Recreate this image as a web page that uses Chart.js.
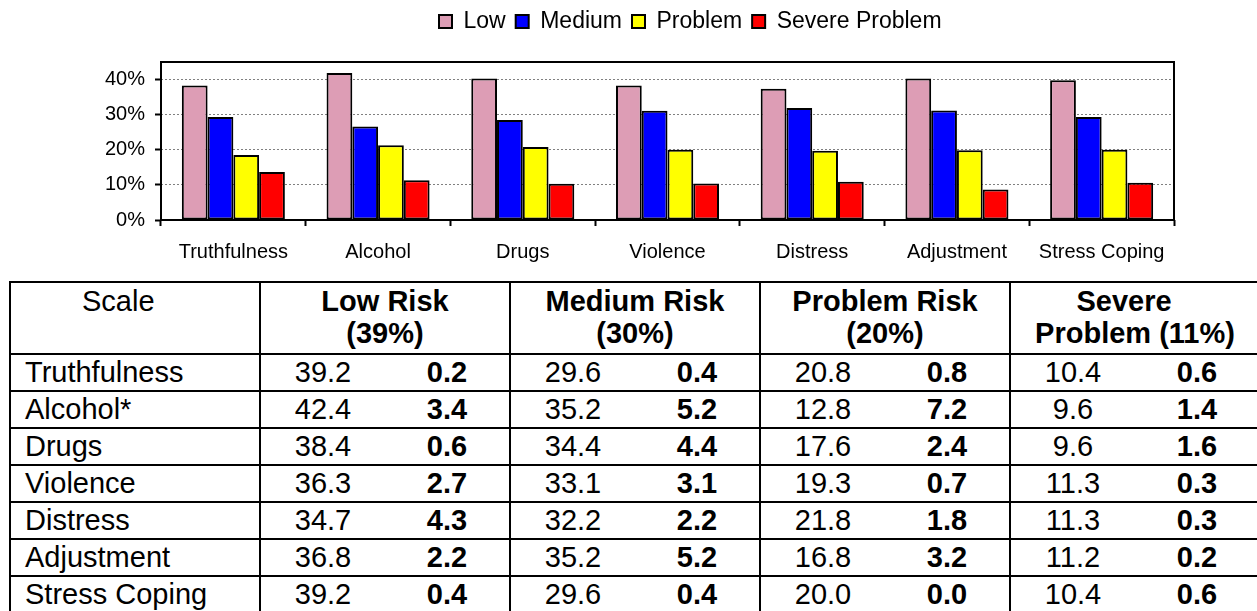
<!DOCTYPE html>
<html>
<head>
<meta charset="utf-8">
<script src="https://cdn.jsdelivr.net/npm/chart.js@4.4.1/dist/chart.umd.min.js"></script>
<style>
html,body{margin:0;padding:0;background:#fff;width:1257px;height:611px;overflow:hidden;font-family:"Liberation Sans",Arial,sans-serif;color:#000;}
#chartBox{position:absolute;left:0;top:0;width:1257px;height:280px;}
#tbl{position:absolute;left:9px;top:281px;border-collapse:collapse;table-layout:fixed;width:1252px;font-size:29px;}
#tbl td,#tbl th{border-top:2px solid #000;border-bottom:2px solid #000;padding:0;white-space:nowrap;overflow:hidden;}
#tbl th{font-weight:bold;text-align:center;vertical-align:top;line-height:32px;height:68px;padding-top:2px;}
#tbl th.scale{font-weight:normal;text-align:left;padding-left:71px;}
#tbl td{height:35px;line-height:33px;text-align:center;vertical-align:middle;}
#tbl td.name{text-align:left;padding-left:14px;}
#tbl .first{border-left:2px solid #000;border-right:2px solid #000;}
#tbl .grp{border-right:2px solid #000;}
#tbl td.b{font-weight:bold;}
</style>
</head>
<body>
<div id="chartBox"><canvas id="c"></canvas></div>
<table id="tbl"></table>
<script>
// ---- chart data ----
const categories = ['Truthfulness','Alcohol','Drugs','Violence','Distress','Adjustment','Stress Coping'];
const seriesNames = ['Low','Medium','Problem','Severe Problem'];
const lowValues     = [38.3, 41.9, 40.3, 38.3, 37.4, 40.3, 39.8];
const mediumValues  = [29.3, 26.6, 28.5, 31.1, 31.9, 31.2, 29.3];
const problemValues = [18.5, 21.3, 20.8, 20.0, 19.7, 19.9, 20.0];
const severeValues  = [13.7, 11.3, 10.3, 10.4, 10.9,  8.7, 10.6];
const yTickValues = [0, 10, 20, 30, 40];

// ---- table data ----
const scaleNames = ['Truthfulness','Alcohol*','Drugs','Violence','Distress','Adjustment','Stress Coping'];
const headerTop    = ['Low Risk','Medium Risk','Problem Risk','Severe'];
const headerBottom = ['(39%)','(30%)','(20%)','Problem (11%)'];
const lowRisk  = [39.2, 42.4, 38.4, 36.3, 34.7, 36.8, 39.2];
const lowDiff  = [0.2, 3.4, 0.6, 2.7, 4.3, 2.2, 0.4];
const medRisk  = [29.6, 35.2, 34.4, 33.1, 32.2, 35.2, 29.6];
const medDiff  = [0.4, 5.2, 4.4, 3.1, 2.2, 5.2, 0.4];
const probRisk = [20.8, 12.8, 17.6, 19.3, 21.8, 16.8, 20.0];
const probDiff = [0.8, 7.2, 2.4, 0.7, 1.8, 3.2, 0.0];
const sevRisk  = [10.4, 9.6, 9.6, 11.3, 11.3, 11.2, 10.4];
const sevDiff  = [0.6, 1.4, 1.6, 0.3, 0.3, 0.2, 0.6];

const seriesValues = [lowValues, mediumValues, problemValues, severeValues];
const seriesColors = ['#DD9DB5', '#0000FF', '#FFFF00', '#FF0000'];

Chart.defaults.font.family = '"Liberation Sans", Arial, sans-serif';
Chart.defaults.color = '#000';

const framePlugin = {
  id: 'frame',
  afterLayout(chart) {
    const lg = chart.legend;
    if (!lg) return;
    const w = lg.right - lg.left;
    lg.left = 429;
    lg.right = 429 + w;
  },
  afterDatasetsDraw(chart) {
    const {ctx, chartArea: a} = chart;
    ctx.save();
    ctx.strokeStyle = '#000';
    ctx.lineWidth = 2;
    ctx.strokeRect(a.left, a.top, a.right - a.left, a.bottom - a.top);
    ctx.restore();
  }
};

new Chart(document.getElementById('c'), {
  type: 'bar',
  data: {
    labels: categories,
    datasets: seriesNames.map((n, i) => ({
      label: n,
      data: seriesValues[i],
      backgroundColor: seriesColors[i],
      borderColor: '#000',
      borderWidth: 2,
      borderSkipped: false,
      categoryPercentage: 0.712,
      barPercentage: 1.0,
      xAxisID: 'x',
      yAxisID: 'y'
    }))
  },
  options: {
    responsive: true,
    maintainAspectRatio: false,
    devicePixelRatio: 1,
    animation: false,
    events: [],
    layout: { padding: { left: 0, right: 83, top: 0, bottom: 0 } },
    plugins: {
      tooltip: { enabled: false },
      legend: {
        position: 'top',
        align: 'start',
        labels: { boxWidth: 13, boxHeight: 13, padding: 10, color: '#000', font: { size: 23 } }
      }
    },
    scales: {
      xTop: {
        type: 'category',
        position: 'top',
        display: true,
        grid: { display: false, drawTicks: false },
        ticks: { display: false },
        border: { display: false },
        afterFit(s) { s.height = 19; }
      },
      x: {
        position: 'bottom',
        afterFit(s) { s.height = 60; },
        grid: { offset: true, drawOnChartArea: false, drawTicks: true, tickLength: 6, tickColor: '#000', tickWidth: 2 },
        border: { display: false },
        ticks: { color: '#000', font: { size: 20 }, padding: 14, maxRotation: 0, autoSkip: false }
      },
      y: {
        min: 0,
        max: 45,
        afterFit(s) { s.width = 161; },
        afterBuildTicks(s) { s.ticks = yTickValues.map(v => ({ value: v })); },
        grid: { color: '#808080', lineWidth: 1, drawTicks: true, tickLength: 6, tickColor: '#000', tickWidth: 2, tickBorderDash: [] },
        border: { display: false, dash: [2, 2] },
        ticks: { color: '#000', font: { size: 20 }, padding: 10, callback: v => v + '%' }
      }
    }
  },
  plugins: [framePlugin]
});

// ---- table ----
const tbl = document.getElementById('tbl');
let html = '<colgroup><col style="width:250px">';
for (let i = 0; i < 8; i++) html += '<col style="width:125px">';
html += '</colgroup>';
html += '<tr><th class="scale first">Scale</th>';
headerTop.forEach((t, i) => {
  const top = (t === 'Severe') ? '<span style="padding-right:22px">' + t + '</span>' : t;
  html += '<th colspan="2" class="grp">' + top + '<br>' + headerBottom[i] + '</th>';
});
html += '</tr>';
const groups = [[lowRisk, lowDiff], [medRisk, medDiff], [probRisk, probDiff], [sevRisk, sevDiff]];
scaleNames.forEach((name, r) => {
  html += '<tr><td class="name first">' + name + '</td>';
  groups.forEach(g => {
    html += '<td>' + g[0][r].toFixed(1) + '</td><td class="b grp">' + g[1][r].toFixed(1) + '</td>';
  });
  html += '</tr>';
});
tbl.innerHTML = html;
</script>
</body>
</html>
